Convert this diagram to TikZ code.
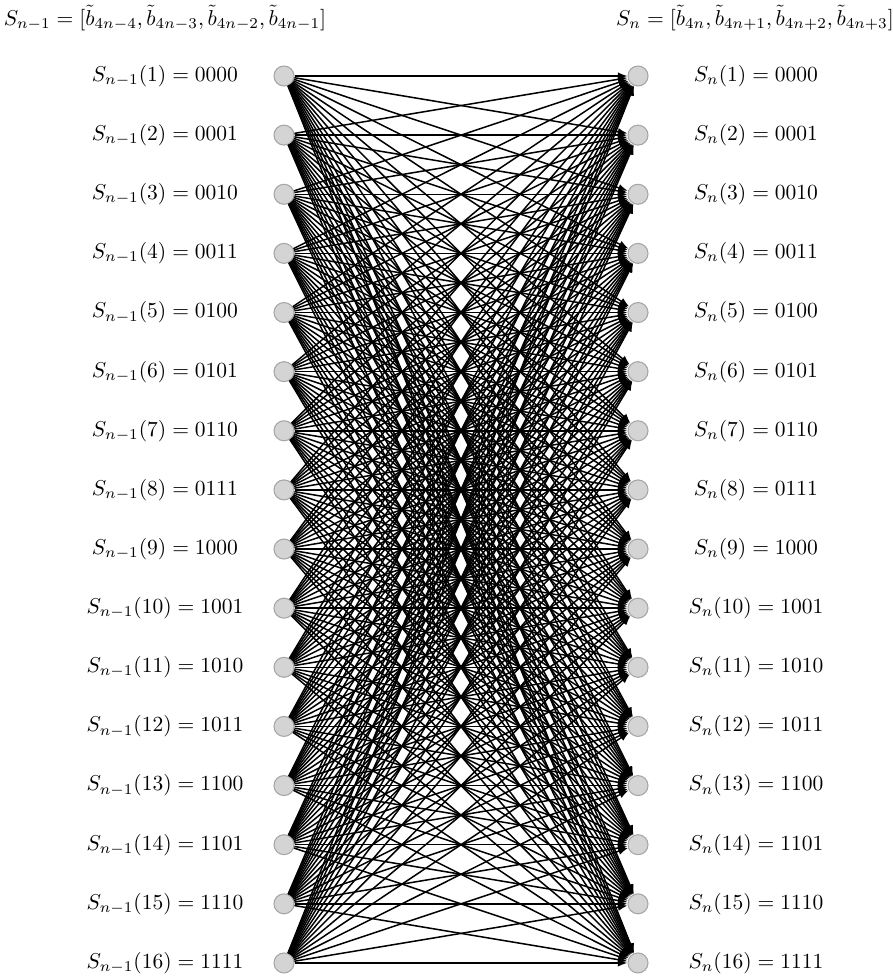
\documentclass[tikz,border=0pt]{standalone}
\usetikzlibrary{arrows.meta}
\begin{document}
\begin{tikzpicture}[x=0.465pt,y=-0.465pt,
  state/.style={circle,draw=black!35,fill=black!17,line width=0.5pt,minimum size=20*0.465pt,inner sep=0pt},
  lab/.style={inner sep=0pt,anchor=center},
  conn/.style={-{Latex[length=4.5pt,width=3.5pt]},line width=0.7pt,black}]
\useasboundingbox (0,0) rectangle (892,979);
\node[lab] (tl) at (165,18) {$S_{n-1}=[\tilde{b}_{4n-4},\tilde{b}_{4n-3},\tilde{b}_{4n-2},\tilde{b}_{4n-1}]$};
\node[lab] (tr) at (755,18) {$S_{n}=[\tilde{b}_{4n},\tilde{b}_{4n+1},\tilde{b}_{4n+2},\tilde{b}_{4n+3}]$};
\foreach \i/\b in {1/0000,2/0001,3/0010,4/0011,5/0100,6/0101,7/0110,8/0111,9/1000,10/1001,11/1010,12/1011,13/1100,14/1101,15/1110,16/1111}{
  \pgfmathsetmacro{\yy}{76+(\i-1)*59.13}
  \node[state] (L\i) at (284,\yy) {};
  \node[state] (R\i) at (638,\yy) {};
  \node[lab] (LL\i) at (165,\yy) {$S_{n-1}(\i)=\b$};
  \node[lab] (RL\i) at (756,\yy) {$S_{n}(\i)=\b$};
}
\foreach \i in {1,...,16}{
  \foreach \j in {1,...,16}{
    \draw[conn] (L\i) -- (R\j);
  }
}
\end{tikzpicture}
\end{document}
